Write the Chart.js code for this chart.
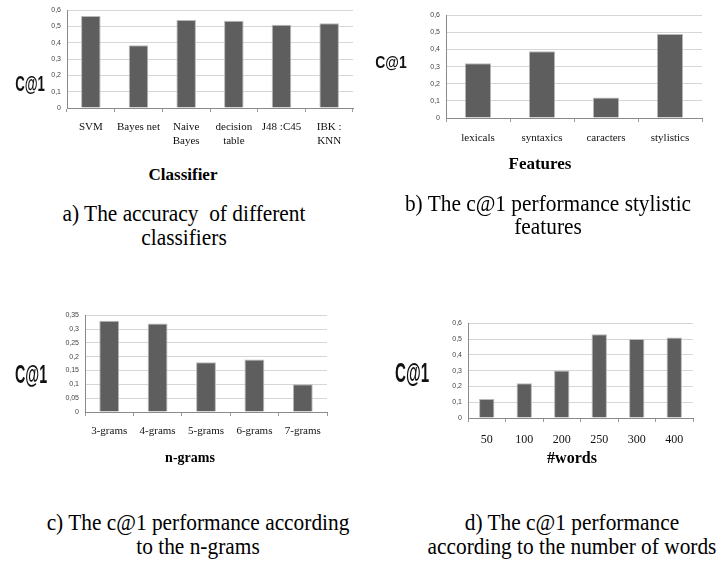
<!DOCTYPE html>
<html>
<head>
<meta charset="utf-8">
<script src="https://cdn.jsdelivr.net/npm/chart.js@4.4.0/dist/chart.umd.min.js"></script>
<style>
  html, body { margin: 0; padding: 0; background: #fff; }
  #page { position: relative; width: 724px; height: 561px; overflow: hidden; background: #fff; }
  canvas { position: absolute; }
  .txt { position: absolute; white-space: pre; font-family: "Liberation Serif", "Times New Roman", serif; color: #000; transform-origin: center center; line-height: 1; }
  .axt { font-weight: bold; }
  .c1 { font-family: "Liberation Sans", Arial, sans-serif; font-weight: bold; color: #111; }
</style>
</head>
<body>
<div id="page">
  <canvas id="ca"></canvas>
  <canvas id="cb"></canvas>
  <canvas id="cc"></canvas>
  <canvas id="cd"></canvas>
</div>
<script>
// a) classifiers
var classLabels = ['SVM', 'Bayes net', ['Naive', 'Bayes'], ['decision', 'table'], 'J48 :C45', ['IBK :', 'KNN']];
var classValues = [0.565, 0.385, 0.54, 0.535, 0.51, 0.52];
// b) stylistic features
var featLabels = ['lexicals', 'syntaxics', 'caracters', 'stylistics'];
var featValues = [0.32, 0.39, 0.12, 0.49];
// c) n-grams
var gramLabels = ['3-grams', '4-grams', '5-grams', '6-grams', '7-grams'];
var gramValues = [0.33, 0.32, 0.18, 0.19, 0.10];
// d) number of words
var wordLabels = ['50', '100', '200', '250', '300', '400'];
var wordValues = [0.12, 0.22, 0.30, 0.53, 0.50, 0.51];

var page = document.getElementById('page');

function addText(str, x, y, cls, size, sx) {
    var d = document.createElement('div');
    d.className = 'txt ' + cls;
    d.textContent = str;
    if (size) d.style.fontSize = size + 'px';
    d.style.left = x + 'px';
    d.style.top = y + 'px';
    d.style.transform = 'translate(-50%, -50%) scaleX(' + (sx || 1) + ')';
    page.appendChild(d);
}

// area = plot area in page pixels
function barChart(id, labels, values, yMax, yStep, area, xFont, xPad) {
    var padL = 45, padT = 10, padR = 10, padB = 50;
    var cv = document.getElementById(id);
    var w = area.r - area.l + padL + padR;
    var h = area.b - area.t + padT + padB;
    cv.width = w; cv.height = h;
    cv.style.width = w + 'px'; cv.style.height = h + 'px';
    cv.style.left = (area.l - padL) + 'px';
    cv.style.top = (area.t - padT) + 'px';
    return new Chart(cv, {
        type: 'bar',
        data: {
            labels: labels,
            datasets: [{
                data: values,
                backgroundColor: '#5e5e5e',
                borderColor: '#b9b9b9',
                borderWidth: 1,
                categoryPercentage: 1,
                barPercentage: 0.41
            }]
        },
        options: {
            responsive: false,
            animation: false,
            layout: { padding: { top: padT, right: padR, left: 0, bottom: 0 } },
            plugins: { legend: { display: false }, tooltip: { enabled: false } },
            scales: {
                x: {
                    afterFit: function (s) { s.height = padB; },
                    grid: { drawOnChartArea: false, tickLength: 4, color: '#9a9a9a' },
                    border: { color: '#8a8a8a' },
                    ticks: {
                        color: '#111', padding: xPad, maxRotation: 0, autoSkip: false,
                        font: { family: 'Liberation Serif', size: xFont, lineHeight: 1.25 }
                    }
                },
                y: {
                    min: 0, max: yMax,
                    afterFit: function (s) { s.width = padL; },
                    grid: { color: '#d6d6d6', drawTicks: false },
                    border: { color: '#8a8a8a' },
                    ticks: {
                        stepSize: yStep, padding: 6, color: '#444',
                        font: { family: 'Liberation Sans', size: 7 },
                        callback: function (v) { return String(+v.toFixed(2)).replace('.', ','); }
                    }
                }
            }
        }
    });
}

barChart('ca', classLabels, classValues, 0.6, 0.1, { l: 67, t: 10, r: 353, b: 108 }, 11, 8);
barChart('cb', featLabels, featValues, 0.6, 0.1, { l: 446, t: 15, r: 702, b: 118 }, 11, 9);
barChart('cc', gramLabels, gramValues, 0.35, 0.05, { l: 85, t: 315, r: 327, b: 412 }, 11, 8);
barChart('cd', wordLabels, wordValues, 0.6, 0.1, { l: 468, t: 323, r: 693, b: 418 }, 12, 10);

// y axis titles
addText('C@1', 30, 84, 'c1', 22, 0.6);
addText('C@1', 391, 63, 'c1', 16, 0.87);
addText('C@1', 31, 374, 'c1', 25, 0.57);
addText('C@1', 412, 373, 'c1', 27, 0.56);

// x axis titles
addText('Classifier', 183, 174, 'axt', 17, 1);
addText('Features', 540, 163, 'axt', 17, 1);
addText('n-grams', 190, 458, 'axt', 14, 1);
addText('#words', 572, 458, 'axt', 16, 1);

// captions
addText('a) The accuracy  of different', 184, 213, '', 24, 0.89);
addText('classifiers', 184, 237, '', 24, 0.89);
addText('b) The c@1 performance stylistic', 548, 203, '', 24, 0.89);
addText('features', 548, 226, '', 24, 0.89);
addText('c) The c@1 performance according', 198, 522, '', 24, 0.89);
addText('to the n-grams', 198, 546, '', 24, 0.89);
addText('d) The c@1 performance', 572, 522, '', 24, 0.89);
addText('according to the number of words', 572, 546, '', 24, 0.89);
</script>
</body>
</html>
